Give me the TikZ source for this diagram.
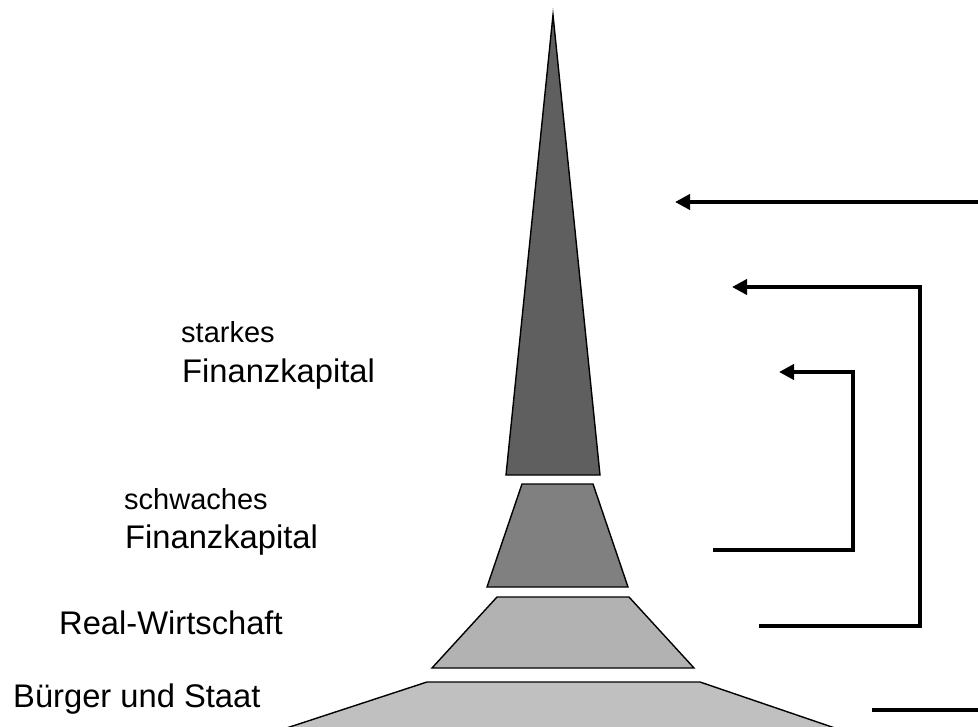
\documentclass[tikz,border=0pt]{standalone}
\usepackage{fontspec}
\setmainfont{Liberation Sans}
\usetikzlibrary{arrows.meta,positioning}

\begin{document}
\begin{tikzpicture}[x=1pt,y=-1pt]
  \tikzstyle{layer}=[draw=black,line width=1.4pt,line join=miter]
  \tikzstyle{flow}=[line width=4.8pt,line join=miter]
  \tikzstyle{tip}=[-{Triangle[length=15pt,width=15pt]}]
  \tikzstyle{big}=[inner sep=0pt,anchor=base west,font=\fontsize{32.7}{39}\selectfont]
  \tikzstyle{small}=[inner sep=0pt,anchor=base west,font=\fontsize{29}{35}\selectfont]

  \clip (0,0) rectangle (978,727);

  % layers, from top to bottom
  \filldraw[layer,fill={rgb,255:red,95;green,95;blue,95}]
    (553,15) -- (600,475) -- (506,475) -- cycle;
  \filldraw[layer,fill={rgb,255:red,128;green,128;blue,128}]
    (522,484) -- (593,484) -- (628,587) -- (487,587) -- cycle;
  \filldraw[layer,fill={rgb,255:red,178;green,178;blue,178}]
    (497,597) -- (629,597) -- (694,668) -- (432,668) -- cycle;
  \filldraw[layer,fill={rgb,255:red,192;green,192;blue,192}]
    (427,682) -- (700,682) -- (870,740) -- (250,740) -- cycle;

  % labels
  \node[small] (starkes) at (181,343) {starkes};
  \node[big]   (fk1)     at (182,383) {Finanzkapital};
  \node[small] (schwach) at (124,509) {schwaches};
  \node[big]   (fk2)     at (125,548) {Finanzkapital};
  \node[big]   (real)    at (59,634)  {Real-Wirtschaft};
  \node[big]   (buerger) at (13,707)  {Bürger und Staat};

  % feedback arrows
  \coordinate (topin)  at (985,202);
  \coordinate (toptip) at (675,202);
  \coordinate (rwout)  at (759,626);
  \coordinate (rwup)   at (920,287);
  \coordinate (rwtip)  at (732,287);
  \coordinate (fkout)  at (713,550);
  \coordinate (fkup)   at (853,372);
  \coordinate (fktip)  at (779,372);
  \coordinate (bsout)  at (872,710);
  \coordinate (bsin)   at (985,710);

  \draw[flow,tip] (topin) -- (toptip);
  \draw[flow,tip] (rwout) -| (rwup) -- (rwtip);
  \draw[flow,tip] (fkout) -| (fkup) -- (fktip);
  \draw[flow] (bsout) -- (bsin);
\end{tikzpicture}
\end{document}
